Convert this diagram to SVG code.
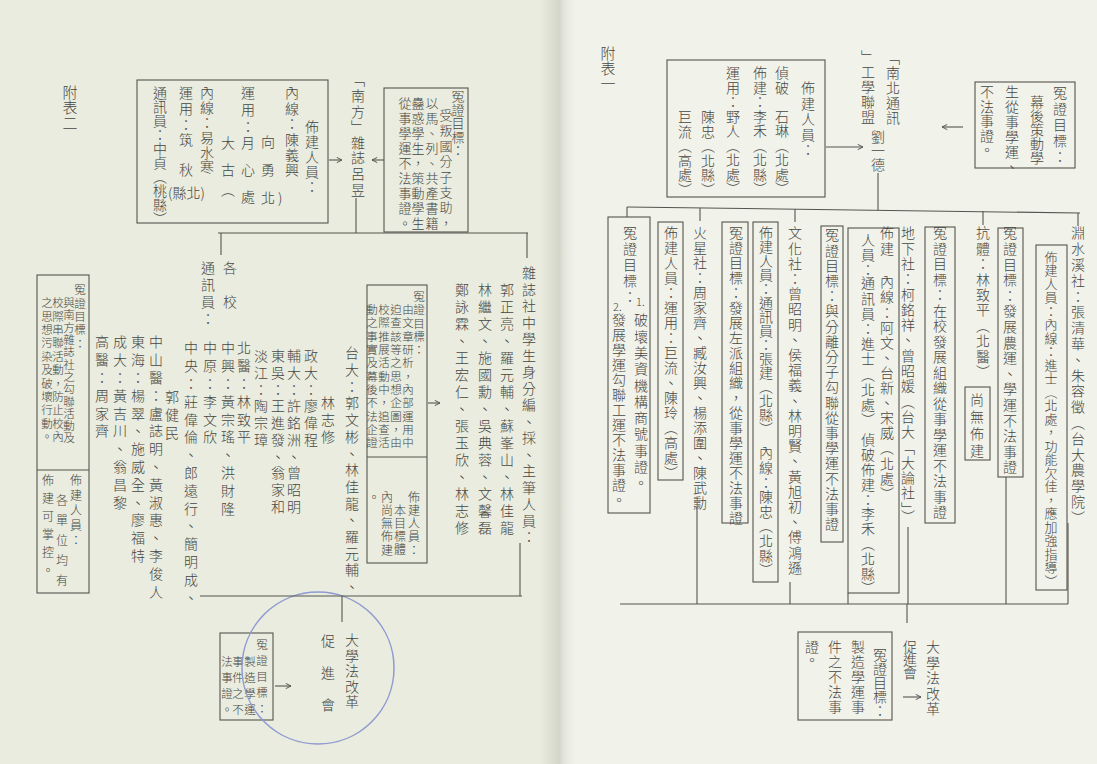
<svg xmlns="http://www.w3.org/2000/svg" width="1097" height="764" viewBox="0 0 1097 764">
<style>
.v{font-family:"Noto Sans CJK TC","Noto Sans CJK SC",sans-serif;writing-mode:vertical-rl;fill:#474744;font-size:14px;font-weight:300}
.h{font-family:"Noto Sans CJK TC","Noto Sans CJK SC",sans-serif;fill:#474744;font-size:14px;font-weight:300}
.s15{font-size:15px}.s13{font-size:13px}.s12{font-size:12px}.s11{font-size:11.5px}
.bx{fill:none;stroke:#55554f;stroke-width:1.1}
.ln{fill:none;stroke:#55554f;stroke-width:1.1}
</style>
<defs>
<linearGradient id="gut" x1="0" x2="1" y1="0" y2="0">
<stop offset="0" stop-color="#e9ecde"/>
<stop offset="0.55" stop-color="#d3d6c9"/>
<stop offset="0.7" stop-color="#e4e6dc"/>
<stop offset="1" stop-color="#f1f2e9"/>
</linearGradient>
<marker id="ah" viewBox="0 0 8 8" refX="7" refY="4" markerWidth="7" markerHeight="7" orient="auto" markerUnits="userSpaceOnUse">
<polyline points="1,1 7,4 1,7" fill="none" stroke="#55554f" stroke-width="1.1"/>
</marker>
</defs>
<rect x="0" y="0" width="540" height="764" fill="#e9ecde"/>
<rect x="540" y="0" width="35" height="764" fill="url(#gut)"/>
<rect x="575" y="0" width="522" height="764" fill="#f1f2e9"/>

<!-- ===== LEFT PAGE ===== -->
<g id="title-left"><text class="v s15" x="70" y="84.5" style="letter-spacing:0.5px">附表二</text></g>

<g id="box-nanfang-staff">
<rect class="bx" x="137" y="80" width="191" height="143"/>
<text class="v" x="312" y="120" style="letter-spacing:1px">佈建人員：</text>
<text class="v" x="292" y="86" style="letter-spacing:1.4px">內線：陳義興</text>
<text class="v" x="268" y="135">向　勇　北</text>
<text class="h" x="278" y="203">)</text>
<text class="v" x="248" y="86" style="letter-spacing:2.7px">運用：月</text>
<text class="v" x="248" y="163" style="letter-spacing:-0.5px">心　處</text>
<text class="v" x="228" y="136" style="letter-spacing:-0.5px">大　古　（</text>
<text class="v" x="207" y="86" style="letter-spacing:0.8px">內線：易水寒</text>
<text class="h" x="168" y="198">(縣北)</text>
<text class="v" x="186" y="86" style="letter-spacing:1.7px">運用：筑</text>
<text class="v" x="186" y="163">秋</text>
<text class="v" x="160" y="86">通訊員：中貞（桃縣）</text>
</g>

<g id="nanfang"><text class="v" x="358" y="73" style="letter-spacing:1.6px">「南方」雜誌呂昱</text></g>

<g id="box-nanfang-target">
<rect class="bx" x="384" y="88" width="84" height="144"/>
<text class="v s13" x="458" y="90" style="letter-spacing:0.5px">冤證目標：</text>
<text class="v s13" x="446" y="108.5" style="letter-spacing:2.4px">受叛國分子支助，</text>
<text class="v s13" x="432" y="96.5" style="letter-spacing:2px">以馬、列、共產書籍</text>
<text class="v s13" x="418" y="96.5" style="letter-spacing:2px">蠱惑學生，策動學生</text>
<text class="v s13" x="405" y="96.5" style="letter-spacing:2px">從事學運不法事證。</text>
</g>

<g id="schools">
<text class="v" x="230" y="261" style="letter-spacing:3px">各　校</text>
<text class="v" x="208" y="261" style="letter-spacing:3px">通訊員：</text>
<text class="v" x="352" y="346" style="letter-spacing:2.7px">台大：郭文彬、林佳龍、羅元輔、</text>
<text class="v" x="328" y="396" style="letter-spacing:2.7px">林志修</text>
<text class="v" x="311" y="349" style="letter-spacing:2.7px">政大：廖偉程</text>
<text class="v" x="294" y="349" style="letter-spacing:2.7px">輔大：許銘洲、曾昭明</text>
<text class="v" x="278" y="349" style="letter-spacing:2.7px">東吳：王進發、翁家和</text>
<text class="v" x="261" y="349" style="letter-spacing:2.7px">淡江：陶宗璋</text>
<text class="v" x="244" y="341" style="letter-spacing:3.8px">北醫：林致平</text>
<text class="v" x="228" y="341" style="letter-spacing:3.8px">中興：黃宗瑤、洪財隆</text>
<text class="v" x="210" y="341" style="letter-spacing:3.8px">中原：李文欣</text>
<text class="v" x="191" y="341" style="letter-spacing:3.8px">中央：莊偉倫、郎遠行、簡明成、</text>
<text class="v" x="172" y="390" style="letter-spacing:3.8px">郭健民</text>
<text class="v" x="156" y="335" style="letter-spacing:3.8px">中山醫：盧誌明、黃淑惠、李俊人</text>
<text class="v" x="138" y="335" style="letter-spacing:3.8px">東海：楊翠、施威全、廖福特</text>
<text class="v" x="120" y="335" style="letter-spacing:3.8px">成大：黃吉川、翁昌黎</text>
<text class="v" x="102" y="335" style="letter-spacing:3.8px">高醫：周家齊</text>
</g>

<g id="box-schools-target">
<rect class="bx" x="37" y="275" width="52" height="318"/>
<line class="ln" x1="37" y1="470" x2="89" y2="470"/>
<text class="v s11" x="80" y="284" style="letter-spacing:1.9px">冤證目標：</text>
<text class="v s11" x="69" y="297" style="letter-spacing:0.8px">與南方雜誌社之勾聯活動及</text>
<text class="v s11" x="58" y="297" style="letter-spacing:1.9px">校際串聯活動，防止校內</text>
<text class="v s11" x="47" y="297" style="letter-spacing:1.9px">之思想污染及破壞行動。</text>
<text class="v s12" x="76" y="474" style="letter-spacing:3px">佈建人員：</text>
<text class="v s12" x="62" y="494" style="letter-spacing:8px">各單位均有</text>
<text class="v s12" x="48" y="474" style="letter-spacing:6px">佈建可掌控。</text>
</g>

<g id="magazine-members">
<text class="v" x="529" y="266" style="letter-spacing:2.5px">雜誌社中學生身分編、採、主筆人員：</text>
<text class="v" x="507" y="283" style="letter-spacing:3px">郭正亮、羅元輔、蘇峯山、林佳龍</text>
<text class="v" x="485" y="283" style="letter-spacing:3px">林繼文、施國勳、吳典蓉、文馨磊</text>
<text class="v" x="462" y="283" style="letter-spacing:3px">鄭詠霖、王宏仁、張玉欣、林志修</text>
</g>

<g id="box-magazine-target">
<rect class="bx" x="367" y="285" width="60" height="278"/>
<line class="ln" x1="367" y1="457" x2="427" y2="457"/>
<text class="v s11" x="419" y="291" style="letter-spacing:1.8px">冤證目標：</text>
<text class="v s11" x="408" y="304" style="letter-spacing:1.8px">由文章研析，內部運用中</text>
<text class="v s11" x="396" y="304" style="letter-spacing:1.8px">迫查該等之思想企圖，由</text>
<text class="v s11" x="384" y="304" style="letter-spacing:1.8px">校際推展活動中，追查活</text>
<text class="v s11" x="372" y="304" style="letter-spacing:1.8px">動之事實及幕後不法企證</text>
<text class="v s12" x="414" y="491" style="letter-spacing:1.3px">佈建人員：</text>
<text class="v s12" x="400" y="504" style="letter-spacing:1.3px">本目標體</text>
<text class="v s12" x="387" y="491" style="letter-spacing:1.3px">內尚無佈建</text>
<text class="v s12" x="374" y="491">。</text>
</g>

<g id="reform-left">
<text class="v" x="352" y="633" style="letter-spacing:1.5px">大學法改革</text>
<text class="v" x="328" y="634" style="letter-spacing:2px">促　進　會</text>
</g>

<g id="box-reform-left">
<rect class="bx" x="220" y="633" width="53" height="87"/>
<text class="v s11" x="262" y="639" style="letter-spacing:4.5px">冤證目標：</text>
<text class="v s11" x="250" y="656" style="letter-spacing:4.5px">製造學運</text>
<text class="v s11" x="238" y="656" style="letter-spacing:4.5px">事件之不</text>
<text class="v s11" x="227" y="656" style="letter-spacing:4.5px">法事證。</text>
</g>

<circle cx="318" cy="668" r="76" fill="none" stroke="#8f9ad2" stroke-width="1.5"/>

<!-- ===== RIGHT PAGE ===== -->
<g id="title-right"><text class="v s15" x="608" y="45.5">附表一</text></g>

<g id="box-nanbei-staff">
<rect class="bx" x="667" y="60" width="158" height="137"/>
<text class="v" x="808" y="81" style="letter-spacing:1.5px">佈建人員：</text>
<text class="v" x="782" y="66" style="letter-spacing:0.5px">偵破　石琳（北處）</text>
<text class="v" x="760" y="66" style="letter-spacing:0.5px">佈建：李禾（北縣）</text>
<text class="v" x="733" y="66" style="letter-spacing:0.5px">運用：野人（北處）</text>
<text class="v" x="708" y="110" style="letter-spacing:0.5px">陳忠（北縣）</text>
<text class="v" x="685" y="110" style="letter-spacing:0.5px">巨流（高處）</text>
</g>

<g id="nanbei">
<text class="v" x="893" y="51" style="letter-spacing:1px">「南北通訊</text>
<text class="v" x="868" y="50" style="letter-spacing:1px">」工學聯盟</text>
<text class="v" x="878" y="130">劉一德</text>
</g>

<g id="box-nanbei-target">
<rect class="bx" x="975" y="82" width="100" height="86"/>
<text class="v" x="1060" y="86" style="letter-spacing:2px">冤證目標：</text>
<text class="v" x="1037" y="95">幕後策動學</text>
<text class="v" x="1012" y="85" style="letter-spacing:1px">生從事學運、</text>
<text class="v" x="987" y="85" style="letter-spacing:0.5px">不法事證。</text>
</g>

<g id="yuanshui">
<text class="v" x="1078" y="226" style="letter-spacing:1.8px">淵水溪社：張清華、朱容徵（台大農學院）</text>
<rect class="bx" x="1036" y="245" width="31" height="345"/>
<text class="v s13" x="1051" y="250.5" style="letter-spacing:0.5px">佈建人員：內線：進士（北處，功能欠佳，應加強指導）</text>
</g>

<g id="kangti">
<rect class="bx" x="998" y="228" width="25" height="249"/>
<text class="v" x="1010" y="226" style="letter-spacing:1.6px">冤證目標：發展農運、學運不法事證</text>
<text class="v" x="983" y="226" style="letter-spacing:1.4px">抗體：林致平（北醫）</text>
<rect class="bx" x="965" y="387" width="25" height="73"/>
<text class="v" x="977" y="393" style="letter-spacing:3px">尚無佈建</text>
</g>

<g id="dixia">
<rect class="bx" x="925" y="227" width="30" height="296"/>
<text class="v" x="940" y="226" style="letter-spacing:1.5px">冤證目標：在校發展組織從事學運不法事證</text>
<text class="v" x="908" y="226" style="letter-spacing:1.3px">地下社：柯銘祥、曾昭媛（台大「大論社」）</text>
<rect class="bx" x="848" y="228" width="51" height="365"/>
<text class="v" x="887" y="226" style="letter-spacing:2px">佈建</text>
<text class="v" x="887" y="275" style="letter-spacing:1.1px">內線：阿文、台新、宋威（北處）</text>
<text class="v" x="868" y="233" style="letter-spacing:1px">人員：</text>
<text class="v" x="868" y="276" style="letter-spacing:1.2px">通訊員：進士（北處）</text>
<text class="v" x="868" y="433" style="letter-spacing:0.8px">偵破佈建：李禾（北縣）</text>
<rect class="bx" x="821" y="226" width="22" height="316"/>
<text class="v" x="832" y="228" style="letter-spacing:1.2px">冤證目標：與分離分子勾聯從事學運不法事證</text>
</g>

<g id="wenhua">
<text class="v" x="795" y="226" style="letter-spacing:1.2px">文化社：曾昭明、侯福義、林明賢、黃旭初、傅鴻遜</text>
<rect class="bx" x="753" y="222" width="25" height="360"/>
<text class="v" x="766" y="226">佈建人員：通訊員：張建（北縣）</text>
<text class="v" x="766" y="446" style="letter-spacing:0.6px">內線：陳忠（北縣）</text>
<rect class="bx" x="722" y="222" width="26" height="301"/>
<text class="v" x="736" y="226" style="letter-spacing:1px">冤證目標：發展左派組織，從事學運不法事證</text>
</g>

<g id="huoxing">
<text class="v" x="700" y="226" style="letter-spacing:1px">火星社：周家齊、臧汝興、楊添圍、陳武勳</text>
<rect class="bx" x="658" y="222" width="25" height="258"/>
<text class="v" x="671" y="226" style="letter-spacing:1px">佈建人員：運用：巨流、陳玲（高處）</text>
<rect class="bx" x="608" y="217" width="42" height="296"/>
<text class="v" x="630" y="226" style="letter-spacing:2px">冤證目標：</text>
<text class="h" x="636" y="306" style="font-size:11px">1.</text>
<text class="v" x="641" y="313" style="letter-spacing:2.3px">破壞美資機構商號事證。</text>
<text class="h" x="613" y="311" style="font-size:11px">2.</text>
<text class="v" x="619" y="313" style="letter-spacing:1px">發展學運勾聯工運不法事證。</text>
</g>

<g id="reform-right">
<text class="v" x="933" y="640" style="letter-spacing:1.5px">大學法改革</text>
<text class="v" x="910" y="640" style="letter-spacing:-1px">促進會</text>
<rect class="bx" x="798" y="632" width="94" height="88"/>
<text class="v" x="880" y="648">冤證目標：</text>
<text class="v" x="858" y="640" style="letter-spacing:1px">製造學運事</text>
<text class="v" x="835" y="640" style="letter-spacing:1px">件之不法事</text>
<text class="v" x="812" y="640" style="letter-spacing:-1px">證。</text>
</g>

<g id="connectors">
<line class="ln" x1="329" y1="160" x2="342" y2="160" marker-end="url(#ah)"/>
<line class="ln" x1="384" y1="160" x2="372" y2="160" marker-end="url(#ah)"/>
<line class="ln" x1="356" y1="198" x2="356" y2="233"/>
<line class="ln" x1="218" y1="233" x2="528" y2="233"/>
<line class="ln" x1="221" y1="233" x2="221" y2="255"/>
<line class="ln" x1="527" y1="233" x2="527" y2="258"/>
<line class="ln" x1="428" y1="403" x2="440" y2="403" marker-end="url(#ah)"/>
<line class="ln" x1="200" y1="596" x2="522" y2="596"/>
<line class="ln" x1="520" y1="543" x2="520" y2="596"/>
<line class="ln" x1="342" y1="596" x2="342" y2="622"/>
<line class="ln" x1="275" y1="686" x2="291" y2="686" marker-end="url(#ah)"/>

<line class="ln" x1="826" y1="147" x2="863" y2="147" marker-end="url(#ah)"/>
<line class="ln" x1="963" y1="127" x2="942" y2="127" marker-end="url(#ah)"/>
<line class="ln" x1="878" y1="173" x2="878" y2="210"/>
<line class="ln" x1="627" y1="207" x2="1080" y2="213"/>
<line class="ln" x1="627" y1="207" x2="627" y2="217"/>
<line class="ln" x1="700" y1="208" x2="700" y2="221"/>
<line class="ln" x1="795" y1="209" x2="795" y2="222"/>
<line class="ln" x1="983" y1="211" x2="983" y2="225"/>
<line class="ln" x1="1078" y1="213" x2="1078" y2="226"/>
<line class="ln" x1="620" y1="604" x2="1068" y2="604"/>
<line class="ln" x1="1068" y1="523" x2="1068" y2="604"/>
<line class="ln" x1="1006" y1="477" x2="1006" y2="604"/>
<line class="ln" x1="908" y1="527" x2="908" y2="604"/>
<line class="ln" x1="848" y1="593" x2="848" y2="604"/>
<line class="ln" x1="790" y1="582" x2="790" y2="604"/>
<line class="ln" x1="697" y1="507" x2="697" y2="604"/>
<line class="ln" x1="907" y1="604" x2="907" y2="623"/>
<line class="ln" x1="903" y1="697" x2="921" y2="697" marker-end="url(#ah)"/>
</g>
</svg>
